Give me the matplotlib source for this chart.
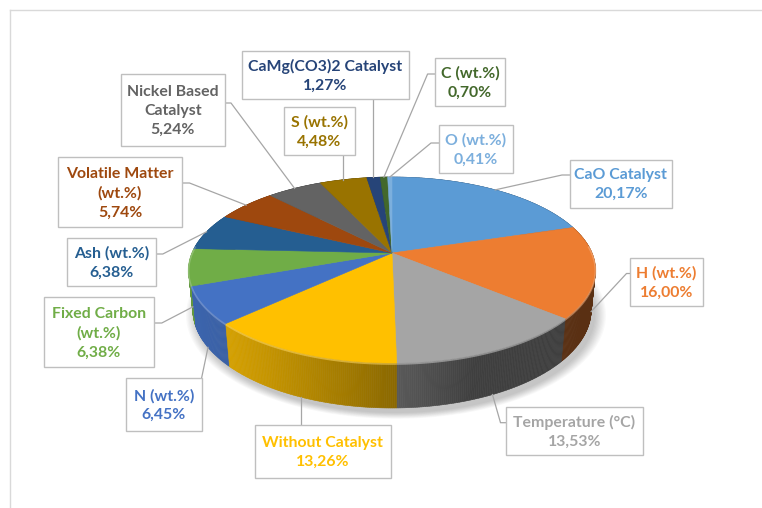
import numpy as np
import matplotlib
matplotlib.use("Agg")
import matplotlib.pyplot as plt
from matplotlib.patches import Polygon, Rectangle
from matplotlib.collections import PolyCollection
import matplotlib.colors as mcolors

# ---------------- data ----------------
categories = ["CaO Catalyst", "H (wt.%)", "Temperature (°C)", "Without Catalyst",
              "N (wt.%)", "Fixed Carbon\n(wt.%)", "Ash (wt.%)", "Volatile Matter\n(wt.%)",
              "Nickel Based\nCatalyst", "S (wt.%)", "CaMg(CO3)2 Catalyst", "C (wt.%)", "O (wt.%)"]
values = [20.17, 16.00, 13.53, 13.26, 6.45, 6.38, 6.38, 5.74, 5.24, 4.48, 1.27, 0.70, 0.41]
colors = ["#5B9BD5", "#ED7D31", "#A5A5A5", "#FFC000", "#4472C4", "#70AD47", "#255E91",
          "#9E480E", "#636363", "#997300", "#264478", "#43682B", "#7CAFDD"]

# ---------------- layout (pixels) ----------------
W, H = 762, 508
# label boxes: x0, y0, x1, y1
boxes = [(569.5, 160, 672, 207.5), (630, 258, 703, 306), (506, 407, 642.5, 455),
         (255, 425, 390.7, 478), (126, 378, 201.6, 431), (44, 297, 153.5, 367),
         (67, 238, 155.5, 286), (58, 157, 182, 227), (120.5, 74, 225, 146),
         (284, 107, 355, 155), (241.5, 51, 409, 98.7), (435, 58, 505, 106),
         (439, 125, 512.6, 173)]
# leader attach: (side, y on box edge, elbow x)
attach = [("left", 175, 562), ("left", 273.5, 626.5), ("left", 422.7, 500.5),
          ("top", None, None), ("topright", None, None), ("right", 323, 161.8),
          ("right", 254, 162.8), ("right", 183, 189.5), ("right", 103, 231),
          ("bottom", None, None), ("bottom", None, None), ("left", 74, 427.6),
          ("left", 143, 431)]

# ---------------- 3D projection ----------------
CX, CY = 392.0, 253.0
F, Dc = 976.0, 4.88
se, ce = 0.4495, 0.893
hgt = 0.2235


def proj(phi_deg, z):
    phi = np.radians(phi_deg)
    x = np.sin(phi)
    y = np.cos(phi)
    depth = Dc + y * ce - z * se
    up = y * se + z * ce
    return CX + F * x / depth, CY - F * up / depth


def depth_of(phi_deg, z):
    phi = np.radians(phi_deg)
    return Dc + np.cos(phi) * ce - z * se


def shade(phi_deg):
    return 0.38 + 0.5 * max(0.0, np.cos(np.radians(phi_deg - 250.0)))


fig = plt.figure(figsize=(W / 100, H / 100), dpi=100)
ax = fig.add_axes([0, 0, 1, 1])
ax.set_xlim(0, W)
ax.set_ylim(H, 0)
ax.axis("off")

# chart area frame
ax.plot([9.5, 9.5], [H, 9.5], color="#D9D9D9", lw=1.0, zorder=0)
ax.plot([9.5, W], [9.5, 9.5], color="#D9D9D9", lw=1.0, zorder=0)

total = sum(values)
bounds = np.concatenate([[0], np.cumsum(values) / total * 360.0])

# shadow
full = np.linspace(0, 360, 361)
bx, by = proj(full, -hgt)
cxm, cym = bx.mean(), by.mean()
for k in range(10):
    s = 1.0 + 0.006 * k
    px = cxm + (bx - cxm) * s + 4
    py = cym + (by - cym) * s + 5
    ax.add_patch(Polygon(np.column_stack([px, py]), closed=True, facecolor="black",
                         edgecolor="none", alpha=0.025, zorder=1))

# side faces
quads, qcols, qdepth = [], [], []
for i, v in enumerate(values):
    a0, a1 = bounds[i], bounds[i + 1]
    n = max(2, int(np.ceil((a1 - a0) / 0.5)))
    angs = np.linspace(a0, a1, n + 1)
    base = np.array(mcolors.to_rgb(colors[i]))
    for j in range(n):
        p, q = angs[j], angs[j + 1]
        t1 = proj(p, 0); t2 = proj(q, 0)
        b2 = proj(q, -hgt); b1 = proj(p, -hgt)
        quads.append([t1, t2, b2, b1])
        m = 0.5 * (p + q)
        qcols.append(np.clip(base * shade(m), 0, 1))
        qdepth.append(depth_of(m, 0))
order = np.argsort(qdepth)[::-1]
pc = PolyCollection([quads[k] for k in order], facecolors=[qcols[k] for k in order],
                    edgecolors=[qcols[k] for k in order], linewidths=0.4, zorder=2)
ax.add_collection(pc)

# top faces
for i, v in enumerate(values):
    a0, a1 = bounds[i], bounds[i + 1]
    angs = np.linspace(a0, a1, max(3, int((a1 - a0) * 2) + 1))
    xs, ys = proj(angs, 0)
    pts = np.column_stack([np.r_[CX, xs], np.r_[CY, ys]])
    ax.add_patch(Polygon(pts, closed=True, facecolor=colors[i], edgecolor=colors[i],
                         lw=0.4, zorder=3))
    # bevel highlight on front rim
    front = angs[(angs > 85) & (angs < 275)]
    if len(front) > 1:
        fx, fy = proj(front, 0)
        light = np.clip(np.array(mcolors.to_rgb(colors[i])) * 0.6 + 0.4, 0, 1)
        ax.plot(fx, fy + 1.0, color=light, lw=1.2, alpha=0.55, zorder=4,
                solid_capstyle="butt")

# labels and leader lines
text_colors = list(colors)
for i, v in enumerate(values):
    x0, y0, x1, y1 = boxes[i]
    ax.add_patch(Rectangle((x0, y0), x1 - x0, y1 - y0, facecolor="white",
                           edgecolor="#BFBFBF", lw=1.0, zorder=5))
    pct = f"{v:.2f}%".replace(".", ",")
    ax.text((x0 + x1) / 2, (y0 + y1) / 2 + 1, categories[i] + "\n" + pct,
            ha="center", va="center", multialignment="center",
            fontsize=11.4, fontweight="bold", family=["Lato", "DejaVu Sans"],
            color=text_colors[i], linespacing=1.45, zorder=6)
    mid = 0.5 * (bounds[i] + bounds[i + 1])
    z = -hgt if 88 < mid < 272 else 0.0
    axp, ayp = proj(mid, z)
    side, yy, ex = attach[i]
    if side == "left":
        pts = [(axp, ayp), (ex, yy), (x0, yy)]
    elif side == "right":
        pts = [(axp, ayp), (ex, yy), (x1, yy)]
    elif side == "top":
        pts = [(axp, ayp), (axp, y0)]
    elif side == "bottom":
        pts = [(axp, ayp), (axp, y1)]
    else:
        pts = [(axp, ayp), (x1, y0)]
    pts = np.array(pts)
    ax.plot(pts[:, 0], pts[:, 1], color="#A6A6A6", lw=0.9, zorder=4.5)

fig.savefig("out.png", dpi=100)
